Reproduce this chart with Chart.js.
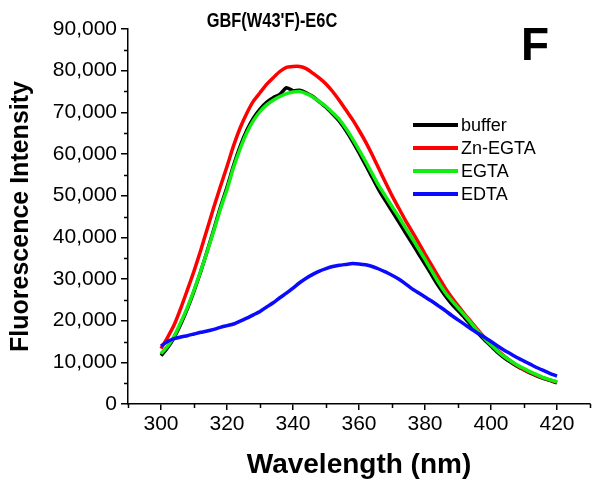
<!DOCTYPE html>
<html>
<head>
<meta charset="utf-8">
<script src="https://cdn.jsdelivr.net/npm/chart.js@4"></script>
<style>
html,body{margin:0;padding:0;background:#fff;}
#wrap{width:600px;height:490px;position:relative;}
</style>
</head>
<body>
<div id="wrap"><canvas id="c" width="600" height="490"></canvas></div>
<script>
const chartTitle = "GBF(W43'F)-E6C";
const panelLetter = "F";
const xTitle = "Wavelength (nm)";
const yTitle = "Fluorescence Intensity";
const seriesNames = ["buffer", "Zn-EGTA", "EGTA", "EDTA"];
const seriesColors = ["#000000", "#ff0000", "#11ee11", "#0a0aff"];
const xTicks = [300, 320, 340, 360, 380, 400, 420];
const yTicks = [0, 10000, 20000, 30000, 40000, 50000, 60000, 70000, 80000, 90000];
const xMinor = [290, 310, 330, 350, 370, 390, 410, 430];
const yMinor = [5000, 15000, 25000, 35000, 45000, 55000, 65000, 75000, 85000];

const wavelength = [300,302,304,306,308,310,312,314,316,318,320,322,324,326,328,330,332,334,336,338,340,342,344,346,348,350,352,354,356,358,360,362,364,366,368,370,372,374,376,378,380,382,384,386,388,390,392,394,396,398,400,402,404,406,408,410,412,414,416,418,420];

const buffer = [11600,13500,16000,19200,22900,27100,31700,36700,41900,47200,52000,57300,61900,65700,68600,70800,72400,73500,74300,75900,75200,75300,74700,73800,72500,71200,69600,67900,65700,63100,60300,57400,54400,51400,48800,46300,43800,41200,38700,36100,33600,31000,28400,26100,24100,22400,20700,18900,17100,15400,13900,12400,11100,10000,9000,8200,7400,6700,6100,5600,5100];

const znEgta = [13300,16000,19000,23000,27400,31900,36800,42000,47200,52200,57000,62000,66300,69800,72700,74700,76700,78300,79800,80800,81000,81000,80500,79400,78200,76800,75000,72900,70600,68300,65700,62900,59800,56500,53200,50000,47100,44200,41500,38800,36000,33300,30600,28000,25700,23600,21600,19700,17800,16000,14400,12900,11500,10300,9200,8300,7500,6800,6200,5700,5300];

const egta = [12100,13900,16300,19600,23200,27300,31800,36600,41600,46800,51500,56800,61300,65100,68000,70200,71800,72900,73800,74500,74900,75000,74500,73700,72600,71400,69900,68300,66200,63700,61000,58200,55300,52400,49900,47400,45000,42400,39900,37300,34700,32000,29300,26900,24900,23100,21300,19400,17500,15800,14200,12700,11400,10300,9300,8500,7700,7000,6300,5800,5300];

const edta = [13900,15000,15700,16100,16400,16800,17200,17500,17900,18400,18800,19200,19900,20600,21400,22200,23300,24300,25500,26600,27800,29100,30200,31100,31900,32500,33000,33300,33500,33700,33600,33400,33000,32400,31700,30900,30000,28900,27700,26700,25700,24700,23600,22500,21300,20200,19100,18000,17000,16000,15000,13900,12900,12000,11100,10300,9500,8700,8000,7300,6700];

const seriesValues = [buffer, znEgta, egta, edta];
const drawOrder = [3, 2, 1, 0];

const FONT = "'Liberation Sans', Arial, Helvetica, sans-serif";

const datasets = seriesNames.map((name, i) => ({
  label: name,
  data: wavelength.map((w, k) => ({x: w, y: seriesValues[i][k]})),
  borderColor: seriesColors[i],
  backgroundColor: seriesColors[i],
  borderWidth: 3.5,
  pointRadius: 0,
  tension: 0.2,
  fill: false,
  order: drawOrder[i]
}));

const decor = {
  id: 'decor',
  afterDraw(chart) {
    const ctx = chart.ctx;
    const xs = chart.scales.x, ys = chart.scales.y;
    ctx.save();
    ctx.strokeStyle = '#000';
    ctx.lineWidth = 1.5;
    ctx.beginPath();
    yMinor.forEach(v => {
      const py = Math.round(ys.getPixelForValue(v)) + 0.5;
      ctx.moveTo(xs.left - 4, py); ctx.lineTo(xs.left, py);
    });
    xMinor.forEach(v => {
      const px = Math.round(xs.getPixelForValue(v)) + 0.5;
      ctx.moveTo(px, ys.bottom); ctx.lineTo(px, ys.bottom + 4);
    });
    ctx.stroke();
    ctx.fillStyle = '#000';
    ctx.textAlign = 'center';
    ctx.textBaseline = 'alphabetic';
    ctx.save();
    ctx.translate(272, 27);
    ctx.scale(0.82, 1);
    ctx.font = "bold 20px " + FONT;
    ctx.fillText(chartTitle, 0, 0);
    ctx.restore();
    ctx.font = "bold 46px " + FONT;
    ctx.fillText(panelLetter, 535, 60);
    ctx.textAlign = 'left';
    ctx.textBaseline = 'middle';
    ctx.font = "18px " + FONT;
    chart.data.datasets.forEach((ds, i) => {
      const y = 125 + i * 23;
      ctx.strokeStyle = ds.borderColor;
      ctx.lineWidth = 4;
      ctx.beginPath();
      ctx.moveTo(413, y); ctx.lineTo(458, y);
      ctx.stroke();
      ctx.fillStyle = '#000';
      ctx.fillText(ds.label, 461, y + 1);
    });
    ctx.restore();
  }
};

new Chart(document.getElementById('c'), {
  type: 'line',
  data: { datasets },
  options: {
    responsive: false,
    animation: false,
    devicePixelRatio: 1,
    layout: { padding: { top: 29, right: 10, left: 0, bottom: 0 } },
    plugins: { legend: { display: false }, tooltip: { enabled: false }, title: { display: false } },
    scales: {
      x: {
        type: 'linear',
        min: 290, max: 430,
        afterBuildTicks: s => { s.ticks = xTicks.map(v => ({value: v})); },
        afterFit: s => { s.height = 86; },
        ticks: { color: '#000', font: { family: FONT, size: 21 }, padding: 2, maxRotation: 0, autoSkip: false },
        grid: { display: true, drawOnChartArea: false, drawTicks: true, tickLength: 6, color: '#000', lineWidth: 1.5 },
        border: { display: true, color: '#000', width: 1.5 },
        title: { display: true, text: xTitle, color: '#000', font: { family: FONT, size: 28, weight: 'bold' }, padding: { top: 0, bottom: 8 } }
      },
      y: {
        type: 'linear',
        min: 0, max: 90000,
        afterBuildTicks: s => { s.ticks = yTicks.map(v => ({value: v})); },
        afterFit: s => { s.width = 128; },
        ticks: { color: '#000', font: { family: FONT, size: 21 }, padding: 4, autoSkip: false,
                 callback: v => v.toLocaleString('en-US') },
        grid: { display: true, drawOnChartArea: false, drawTicks: true, tickLength: 7, color: '#000', lineWidth: 1.5 },
        border: { display: true, color: '#000', width: 1.5 },
        title: { display: true, text: yTitle, color: '#000', font: { family: FONT, size: 25, weight: 'bold' }, padding: { top: 6, bottom: 0 } }
      }
    }
  },
  plugins: [decor]
});
</script>
</body>
</html>
